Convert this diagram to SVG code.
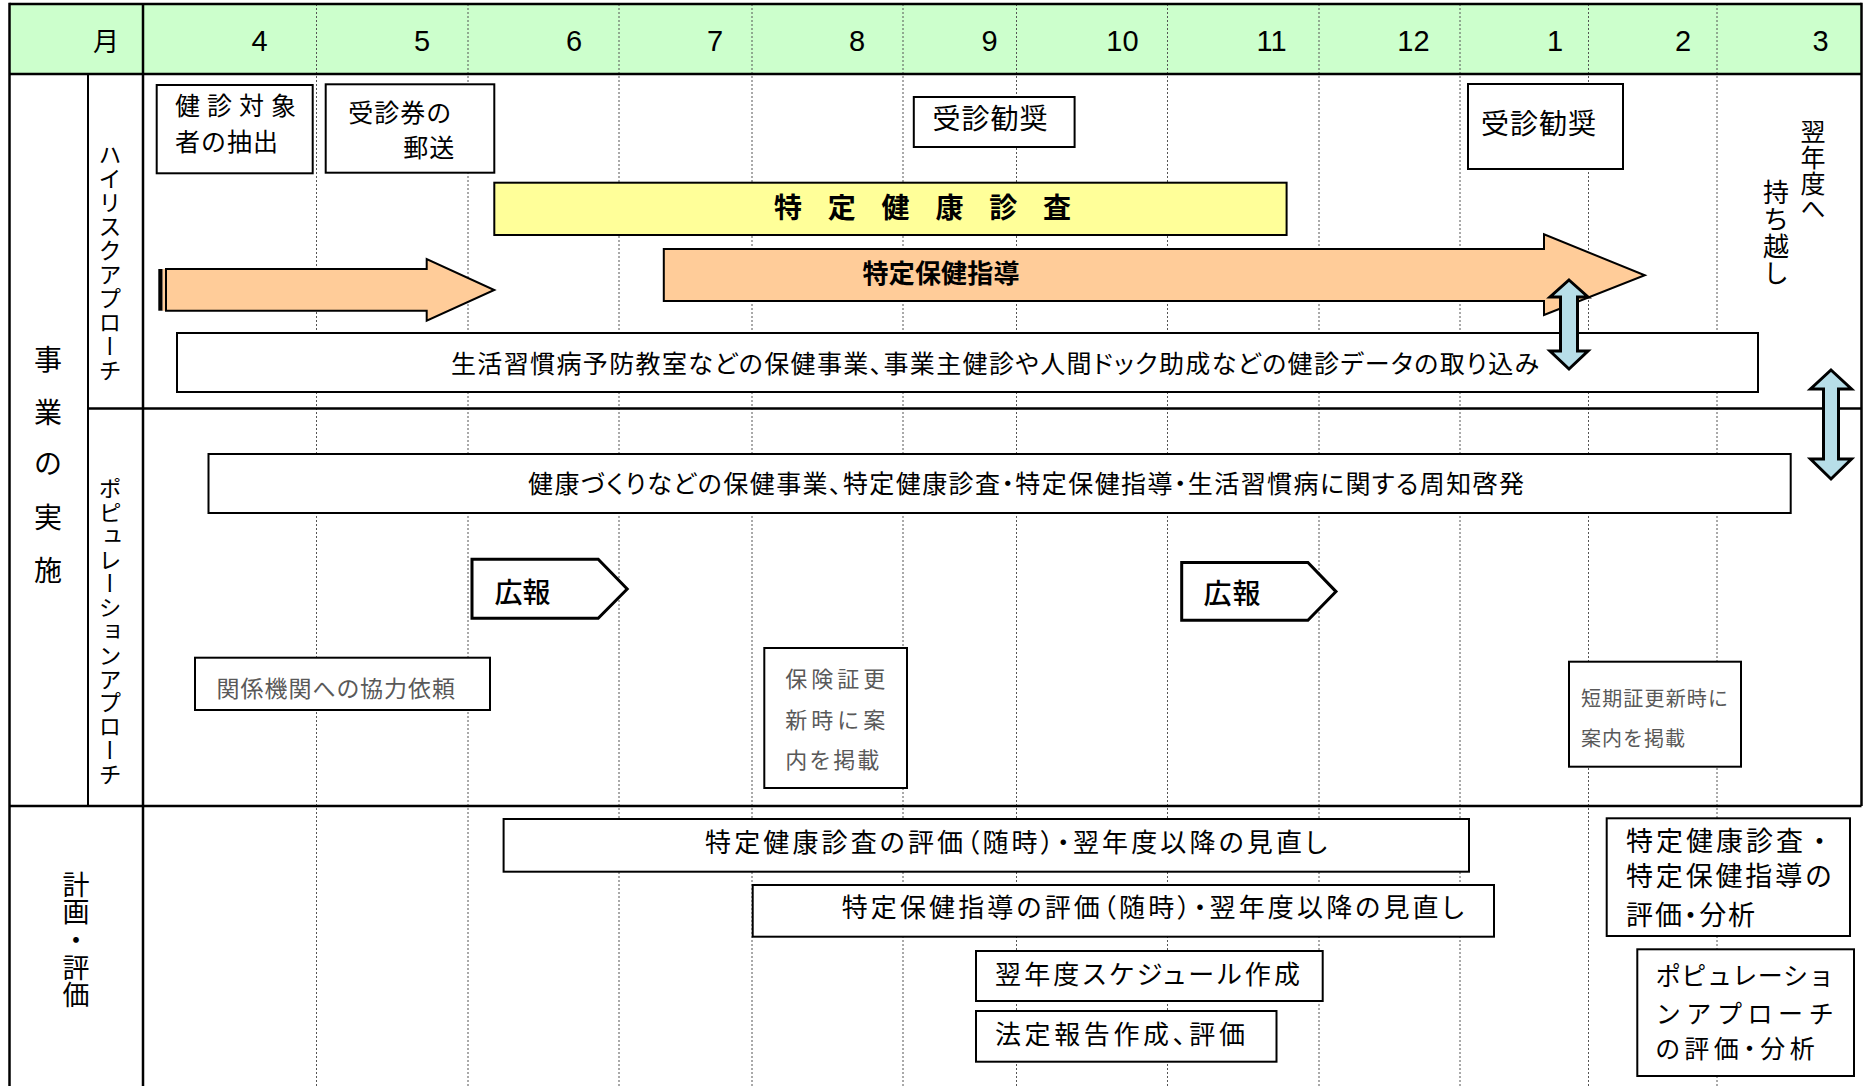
<svg xmlns="http://www.w3.org/2000/svg" width="1863" height="1086" viewBox="0 0 1863 1086">
<style>
.t{font-family:"Noto Sans CJK JP","Noto Sans",sans-serif;fill:#000}
.p{font-feature-settings:"palt"}
.n{font-family:"Liberation Sans",Arial,sans-serif;font-size:29px;fill:#000;text-anchor:middle}
.box{fill:#fff;stroke:#000;stroke-width:2}
.grid{stroke:#555;stroke-width:1;stroke-dasharray:2 2}
.fr{stroke:#000;stroke-width:2.5;fill:none}
.fr2{stroke:#000;stroke-width:2;fill:none}
.gray{fill:#595959}
.v{writing-mode:vertical-rl}
.orange{fill:#FFCC99;stroke:#000;stroke-width:2}
.blue{fill:#B7DEE8;stroke:#000;stroke-width:3;stroke-linejoin:miter}
.pent{fill:#fff;stroke:#000;stroke-width:3}
</style>
<rect x="0" y="0" width="1863" height="1086" fill="#fff"/>
<rect x="10" y="4" width="1851" height="70" fill="#CCFFCC"/>
<g id="gridlines">
<line class="grid" x1="316.5" y1="4" x2="316.5" y2="1086"/>
<line class="grid" x1="468" y1="4" x2="468" y2="1086"/>
<line class="grid" x1="619" y1="4" x2="619" y2="1086"/>
<line class="grid" x1="752" y1="4" x2="752" y2="1086"/>
<line class="grid" x1="903" y1="4" x2="903" y2="1086"/>
<line class="grid" x1="1016.5" y1="4" x2="1016.5" y2="1086"/>
<line class="grid" x1="1167.5" y1="4" x2="1167.5" y2="1086"/>
<line class="grid" x1="1319" y1="4" x2="1319" y2="1086"/>
<line class="grid" x1="1460" y1="4" x2="1460" y2="1086"/>
<line class="grid" x1="1588.5" y1="4" x2="1588.5" y2="1086"/>
<line class="grid" x1="1717" y1="4" x2="1717" y2="1086"/>
</g>
<g id="frame">
<line class="fr" x1="9.5" y1="4" x2="1861.5" y2="4"/>
<line class="fr" x1="9.5" y1="2.8" x2="9.5" y2="1086"/>
<line class="fr" x1="1861.5" y1="2.8" x2="1861.5" y2="806"/>
<line class="fr" x1="9.5" y1="74" x2="1861.5" y2="74"/>
<line class="fr" x1="143" y1="4" x2="143" y2="1086"/>
<line class="fr2" x1="88" y1="74" x2="88" y2="806"/>
<line class="fr" x1="88" y1="408.5" x2="1861.5" y2="408.5"/>
<line class="fr" x1="9.5" y1="806" x2="1861.5" y2="806"/>
</g>
<g id="header">
<text class="t" x="106" y="51" font-size="26" text-anchor="middle">月</text>
<text class="n" x="259.6" y="50.5">4</text>
<text class="n" x="422" y="50.5">5</text>
<text class="n" x="574" y="50.5">6</text>
<text class="n" x="715" y="50.5">7</text>
<text class="n" x="857" y="50.5">8</text>
<text class="n" x="989.5" y="50.5">9</text>
<text class="n" x="1122.5" y="50.5">10</text>
<text class="n" x="1271.5" y="50.5">11</text>
<text class="n" x="1413.5" y="50.5">12</text>
<text class="n" x="1555" y="50.5">1</text>
<text class="n" x="1683" y="50.5">2</text>
<text class="n" x="1820.5" y="50.5">3</text>
</g>
<g id="row-labels">
<text class="t" font-size="28" text-anchor="middle"><tspan x="48" y="369.6">事</tspan><tspan x="48" y="422.6">業</tspan><tspan x="48" y="473.6">の</tspan><tspan x="48" y="527.6">実</tspan><tspan x="48" y="580.6">施</tspan></text>
<text class="t v" x="110" y="143" font-size="23" letter-spacing="1">ハイリスクアプローチ</text>
<text class="t v" x="110" y="477" font-size="23" letter-spacing="0.8">ポピュレーションアプローチ</text>
<text class="t v" x="76" y="871" font-size="27" letter-spacing="0.6">計画・評価</text>
</g>
<g id="n-kenshin-chushutsu">
<rect class="box" x="156.7" y="85" width="156" height="88.3"/>
<text class="t" x="175" y="114.8" font-size="25" textLength="121" lengthAdjust="spacing">健診対象</text>
<text class="t" x="175" y="150.5" font-size="25" textLength="103" lengthAdjust="spacing">者の抽出</text>
</g>
<g id="n-jushinken">
<rect class="box" x="325.7" y="84.3" width="168.6" height="88.4"/>
<text class="t" x="348.3" y="122" font-size="25" textLength="103" lengthAdjust="spacing">受診券の</text>
<text class="t" x="403.3" y="157" font-size="25" textLength="51" lengthAdjust="spacing">郵送</text>
</g>
<g id="n-kansho-9">
<rect class="box" x="913.8" y="97" width="160.8" height="50"/>
<text class="t" x="932.6" y="128.6" font-size="28" textLength="115" lengthAdjust="spacing">受診勧奨</text>
</g>
<g id="n-kansho-1">
<rect class="box" x="1468" y="84" width="155" height="85"/>
<text class="t" x="1481" y="133.6" font-size="28" textLength="115" lengthAdjust="spacing">受診勧奨</text>
</g>
<g id="n-tokutei-kenshin">
<rect x="494.3" y="182.7" width="792.3" height="52.3" fill="#FFFF99" stroke="#000" stroke-width="2"/>
<text class="t" x="774" y="217.6" font-size="28" font-weight="bold" textLength="297" lengthAdjust="spacing">特 定 健 康 診 査</text>
</g>
<g id="n-arrow-early">
<rect x="158.3" y="269" width="4.4" height="41.7" fill="#000"/>
<rect x="162.7" y="269" width="3" height="41.7" fill="#FFCC99"/>
<polygon class="orange" points="166,269 426.7,269 426.7,259 494.3,290 426.7,320.7 426.7,310.7 166,310.7"/>
</g>
<g id="n-tokutei-hoken">
<polygon class="orange" points="663.8,249 1544,249 1544,234.3 1644.8,275.3 1544,315 1544,301 663.8,301"/>
<text class="t" x="862.5" y="282.9" font-size="26" font-weight="bold" textLength="157" lengthAdjust="spacing">特定保健指導</text>
</g>
<g id="n-carryover">
<text class="t v" x="1813" y="119" font-size="25" letter-spacing="0.8">翌年度へ</text>
<text class="t v" x="1776" y="179" font-size="26" letter-spacing="1">持ち越し</text>
</g>
<g id="n-data">
<rect class="box" x="177" y="333" width="1581" height="59"/>
<text class="t p" x="451" y="372.5" font-size="25" textLength="1088" lengthAdjust="spacing">生活習慣病予防教室などの保健事業、事業主健診や人間ドック助成などの健診データの取り込み</text>
</g>
<g id="n-shuchi">
<rect class="box" x="208.5" y="454" width="1582.2" height="59"/>
<text class="t p" x="528" y="492.5" font-size="25" textLength="996" lengthAdjust="spacing">健康づくりなどの保健事業、特定健康診査・特定保健指導・生活習慣病に関する周知啓発</text>
</g>
<g id="n-koho-1">
<polygon class="pent" points="472,559.3 598.2,559.3 627.2,589 598.2,618.3 472,618.3"/>
<text class="t" x="494.6" y="602.6" font-size="28" font-weight="500" textLength="56" lengthAdjust="spacing">広報</text>
</g>
<g id="n-koho-2">
<polygon class="pent" points="1181.7,562.4 1307.9,562.4 1336,591.6 1307.9,620.3 1181.7,620.3"/>
<text class="t" x="1203.6" y="603.6" font-size="28" font-weight="500" textLength="57" lengthAdjust="spacing">広報</text>
</g>
<g id="n-kyoryoku">
<rect class="box" x="195" y="657.7" width="295" height="52.3"/>
<text class="t gray p" x="216.5" y="696.7" font-size="23" textLength="238.5" lengthAdjust="spacing">関係機関への協力依頼</text>
</g>
<g id="n-hokensho">
<rect class="box" x="764.3" y="648" width="142.7" height="140"/>
<text class="t gray" x="785.3" y="687.4" font-size="22" textLength="100" lengthAdjust="spacing">保険証更</text>
<text class="t gray" x="785.3" y="728.4" font-size="22" textLength="100" lengthAdjust="spacing">新時に案</text>
<text class="t gray" x="785.3" y="768.4" font-size="22" textLength="94" lengthAdjust="spacing">内を掲載</text>
</g>
<g id="n-tanki">
<rect class="box" x="1569" y="661.7" width="172" height="105" stroke-width="1.5"/>
<text class="t gray" x="1581" y="705.9" font-size="20" textLength="147" lengthAdjust="spacing">短期証更新時に</text>
<text class="t gray" x="1581" y="745.9" font-size="20" textLength="104" lengthAdjust="spacing">案内を掲載</text>
</g>
<g id="n-hyoka-kenshin">
<rect class="box" x="503.6" y="819" width="965.4" height="52.7"/>
<text class="t p" x="705" y="852.4" font-size="26" textLength="622" lengthAdjust="spacing">特定健康診査の評価（随時）・翌年度以降の見直し</text>
</g>
<g id="n-hyoka-hoken">
<rect class="box" x="752.7" y="885" width="741.3" height="51.7"/>
<text class="t p" x="841.7" y="917.4" font-size="26" textLength="622" lengthAdjust="spacing">特定保健指導の評価（随時）・翌年度以降の見直し</text>
</g>
<g id="n-schedule">
<rect class="box" x="976" y="951" width="346.7" height="50"/>
<text class="t p" x="995" y="984.1" font-size="26" textLength="305" lengthAdjust="spacing">翌年度スケジュール作成</text>
</g>
<g id="n-hotei">
<rect class="box" x="976" y="1011" width="300.5" height="50.7"/>
<text class="t p" x="995" y="1044.1" font-size="26" textLength="250" lengthAdjust="spacing">法定報告作成、評価</text>
</g>
<g id="n-bunseki-1">
<rect class="box" x="1606.7" y="818.3" width="243.3" height="117.7"/>
<text class="t" x="1626" y="850.8" font-size="27" textLength="207" lengthAdjust="spacing">特定健康診査・</text>
<text class="t" x="1626" y="886.3" font-size="27" textLength="206" lengthAdjust="spacing">特定保健指導の</text>
<text class="t p" x="1626" y="925.3" font-size="27" textLength="129" lengthAdjust="spacing">評価・分析</text>
</g>
<g id="n-bunseki-2">
<rect class="box" x="1637.3" y="949.3" width="216.7" height="126.7"/>
<text class="t" x="1655.7" y="985.3" font-size="25" textLength="178" lengthAdjust="spacing">ポピュレーショ</text>
<text class="t" x="1655.7" y="1022.8" font-size="25" textLength="178" lengthAdjust="spacing">ンアプローチ</text>
<text class="t p" x="1655.7" y="1057.8" font-size="25" textLength="159" lengthAdjust="spacing">の評価・分析</text>
</g>
<g id="connectors">
<polygon class="blue" points="1569,280 1588,297 1577.5,297 1577.5,351 1588,351 1569,369 1550,351 1560.5,351 1560.5,297 1550,297"/>
<polygon class="blue" points="1831,370 1851.5,389 1838.5,389 1838.5,459 1851.5,459 1831,479 1810.5,459 1823.5,459 1823.5,389 1810.5,389"/>
</g>
</svg>
